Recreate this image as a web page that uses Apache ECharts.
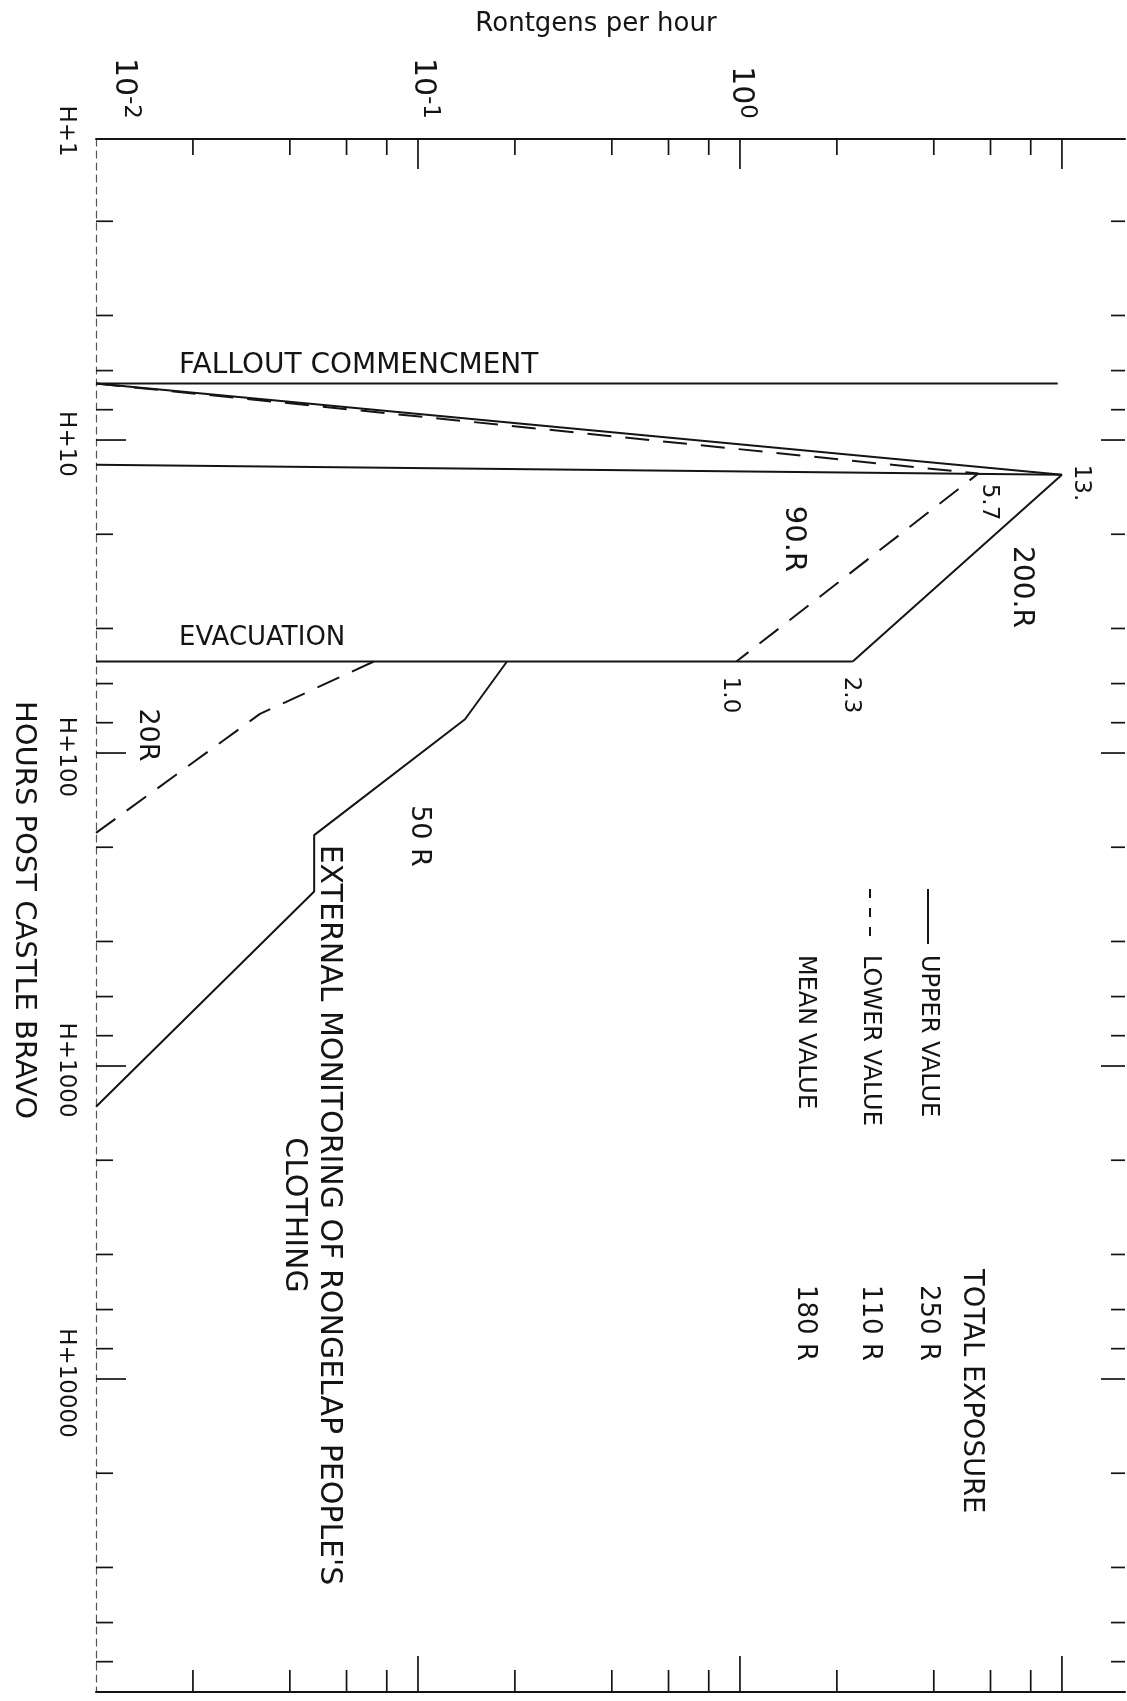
<!DOCTYPE html>
<html>
<head>
<meta charset="utf-8">
<title>Rongelap dose rate</title>
<script src="https://cdn.jsdelivr.net/npm/echarts@6/dist/echarts.min.js"></script>
<style>
html,body{margin:0;padding:0;background:#fff;}
#chart{width:1127px;height:1701px;}
</style>
</head>
<body>
<div id="chart"></div>
<script>
// ---------------- data ----------------
// x: Rontgens per hour (log), y: hours post Castle Bravo (log)
const xMajorTicks = [0.1, 1, 10];
const xMinorTicks = [0.02, 0.04, 0.06, 0.08, 0.2, 0.4, 0.6, 0.8, 2, 4, 6, 8];
const xTickLabelValues = [0.01, 0.1, 1];
const xTickLabelBase = ['10', '10', '10'];
const xTickLabelExp = ['-2', '-1', '0'];

const yMajorTicks = [10, 100, 1000, 10000];
const yMinorTicks = [2, 4, 6, 8, 20, 40, 60, 80, 200, 400, 600, 800,
                     2000, 4000, 6000, 8000, 20000, 40000, 60000, 80000];
const yTickLabelValues = [1, 10, 100, 1000, 10000];
const yTickLabels = ['H+1', 'H+10', 'H+100', 'H+1000', 'H+10000'];

const falloutCommencement = [[0.01, 6.6], [9.7, 6.6]];
const evacuation = [[0.01, 51], [2.24, 51]];
const peakTime = [[0.01, 12.0], [10.0, 12.9]];
const upperBefore = [[0.01, 6.6], [10.0, 12.9], [2.24, 51]];
const lowerBefore = [[0.01, 6.6], [5.5, 12.8], [0.975, 51]];
const upperAfter = [[0.189, 51], [0.140, 78], [0.0476, 183], [0.0476, 277], [0.01, 1350]];
const lowerAfter = [[0.0729, 51], [0.0323, 75], [0.01, 180]];

// ---------------- layout / style ----------------
const INK = '#141414';
const FONT = '"DejaVu Sans", "Liberation Sans", sans-serif';
const X_LABEL_SHIFT = [28, 5, 1];
const f = (s) => s + 'px ' + FONT;

function lineSeries(name, data, dashed) {
  return {
    type: 'line', name: name, data: data, xAxisIndex: 0, yAxisIndex: 0,
    symbol: 'none', showSymbol: false, silent: true, animation: false, z: 3,
    lineStyle: {color: INK, width: 2, type: dashed ? [24, 14] : 'solid'}
  };
}

function tickSeries(values, side, len) {
  const horizontal = (side === 'top' || side === 'bottom');
  return {
    type: 'custom', coordinateSystem: 'cartesian2d', xAxisIndex: 0, yAxisIndex: 0,
    silent: true, animation: false, z: 2,
    data: values.map(v => horizontal ? [v, 2] : [0.01, v]),
    renderItem: function (params, api) {
      const cs = params.coordSys;
      const p = api.coord([api.value(0), api.value(1)]);
      let x1, y1, x2, y2;
      if (horizontal) {
        x1 = x2 = p[0];
        if (side === 'top') { y1 = cs.y; y2 = cs.y + len; }
        else { y1 = cs.y + cs.height; y2 = y1 - len; }
      } else {
        y1 = y2 = p[1];
        if (side === 'left') { x1 = cs.x; x2 = cs.x + len; }
        else { x1 = cs.x + cs.width; x2 = x1 - len; }
      }
      return {type: 'line', shape: {x1: x1, y1: y1, x2: x2, y2: y2},
              style: {stroke: INK, lineWidth: 1.7}};
    }
  };
}

const xLabelSeries = {
  type: 'custom', coordinateSystem: 'cartesian2d', xAxisIndex: 0, yAxisIndex: 0,
  silent: true, animation: false,
  data: xTickLabelValues.map((v, i) => [v, 2, i]),
  renderItem: function (params, api) {
    const cs = params.coordSys;
    const i = api.value(2);
    const p = api.coord([api.value(0), api.value(1)]);
    return {
      type: 'text', x: p[0] + X_LABEL_SHIFT[i], y: cs.y - 20, rotation: -Math.PI / 2,
      style: {
        text: '{b|' + xTickLabelBase[i] + '}{e|' + xTickLabelExp[i] + '}',
        rich: {
          b: {fontSize: 30, fontFamily: FONT, fill: INK, lineHeight: 36, verticalAlign: 'middle'},
          e: {fontSize: 23, fontFamily: FONT, fill: INK, lineHeight: 25, verticalAlign: 'top'}
        },
        align: 'right', verticalAlign: 'middle', textAlign: 'right', textVerticalAlign: 'middle'
      }
    };
  }
};

const yLabelSeries = {
  type: 'custom', coordinateSystem: 'cartesian2d', xAxisIndex: 0, yAxisIndex: 0,
  silent: true, animation: false,
  data: yTickLabelValues.map((v, i) => [0.01, v, i]),
  renderItem: function (params, api) {
    const cs = params.coordSys;
    const i = api.value(2);
    const p = api.coord([api.value(0), api.value(1)]);
    return {
      type: 'text', x: cs.x - 19, y: p[1] + 4, rotation: -Math.PI / 2,
      style: {
        text: yTickLabels[i], font: f(23), fill: INK,
        align: 'center', verticalAlign: 'top', textAlign: 'center', textVerticalAlign: 'top'
      }
    };
  }
};

function T(text, x, y, size, opt) {
  opt = opt || {};
  const al = opt.align || 'center';
  const va = opt.va || 'middle';
  return {
    type: 'text', x: x, y: y, silent: true,
    rotation: opt.flat ? 0 : -Math.PI / 2,
    style: {
      text: text, font: f(size), fill: INK,
      align: al, verticalAlign: va, textAlign: al, textVerticalAlign: va,
      lineHeight: opt.lh
    }
  };
}

const graphics = [
  T('Rontgens per hour', 596, 24, 26, {flat: true}),
  T('FALLOUT COMMENCMENT', 179, 366, 28, {flat: true, align: 'left'}),
  T('EVACUATION', 179, 638, 26, {flat: true, align: 'left'}),
  T('13.', 1081, 483, 23),
  T('5.7', 989, 502, 23),
  T('200.R', 1021, 587, 28),
  T('90.R', 794, 539, 29),
  T('1.0', 730, 695, 23),
  T('2.3', 851, 695, 23),
  T('20R', 147, 735, 27),
  T('50 R', 419, 836, 27),
  T("EXTERNAL MONITORING OF RONGELAP PEOPLE'S\nCLOTHING", 311, 1215, 30, {lh: 35}),
  T('HOURS POST CASTLE BRAVO', 24, 910, 29),
  {type: 'line', silent: true, shape: {x1: 928, y1: 889, x2: 928, y2: 944},
   style: {stroke: INK, lineWidth: 2}},
  {type: 'line', silent: true, shape: {x1: 870, y1: 889, x2: 870, y2: 944},
   style: {stroke: INK, lineWidth: 2, lineDash: [9, 10]}},
  T('UPPER VALUE', 928, 955, 24, {align: 'left'}),
  T('LOWER VALUE', 870, 955, 24, {align: 'left'}),
  T('MEAN VALUE', 805, 955, 24, {align: 'left'}),
  T('TOTAL EXPOSURE', 971, 1269, 27.5, {align: 'left'}),
  T('250 R', 928, 1285, 26, {align: 'left'}),
  T('110 R', 870, 1285, 26, {align: 'left'}),
  T('180 R', 805, 1285, 26, {align: 'left'})
];

const hiddenAxisParts = {
  axisTick: {show: false}, axisLabel: {show: false},
  splitLine: {show: false}, minorTick: {show: false}, minorSplitLine: {show: false}
};

const option = {
  animation: false,
  backgroundColor: '#ffffff',
  grid: {left: 96, top: 139, width: 1029, height: 1553, containLabel: false},
  xAxis: [
    Object.assign({type: 'log', logBase: 10, min: 0.01, max: 15.7, position: 'top', gridIndex: 0,
      axisLine: {show: true, onZero: false, lineStyle: {color: INK, width: 2}}}, hiddenAxisParts),
    Object.assign({type: 'log', logBase: 10, min: 0.01, max: 15.7, position: 'bottom', gridIndex: 0,
      axisLine: {show: true, onZero: false, lineStyle: {color: INK, width: 2}}}, hiddenAxisParts)
  ],
  yAxis: [
    Object.assign({type: 'log', logBase: 10, min: 1.092, max: 100000, inverse: true, position: 'left',
      axisLine: {show: true, onZero: false, lineStyle: {color: '#555', width: 1.2, type: [7, 5]}}},
      hiddenAxisParts)
  ],
  graphic: graphics,
  series: [
    lineSeries('Fallout commencement', falloutCommencement, false),
    lineSeries('Evacuation', evacuation, false),
    lineSeries('Peak', peakTime, false),
    lineSeries('Upper value', upperBefore, false),
    lineSeries('Lower value', lowerBefore, true),
    lineSeries('Upper value after evacuation', upperAfter, false),
    lineSeries('Lower value after evacuation', lowerAfter, true),
    tickSeries(xMinorTicks, 'top', 16),
    tickSeries(xMajorTicks, 'top', 30),
    tickSeries(xMinorTicks, 'bottom', 22),
    tickSeries(xMajorTicks, 'bottom', 36),
    tickSeries(yMinorTicks, 'left', 17),
    tickSeries(yMajorTicks, 'left', 30),
    tickSeries(yMinorTicks, 'right', 14),
    tickSeries(yMajorTicks, 'right', 24),
    xLabelSeries,
    yLabelSeries
  ]
};

const chart = echarts.init(document.getElementById('chart'), null, {renderer: 'canvas'});
chart.setOption(option);
</script>
</body>
</html>
